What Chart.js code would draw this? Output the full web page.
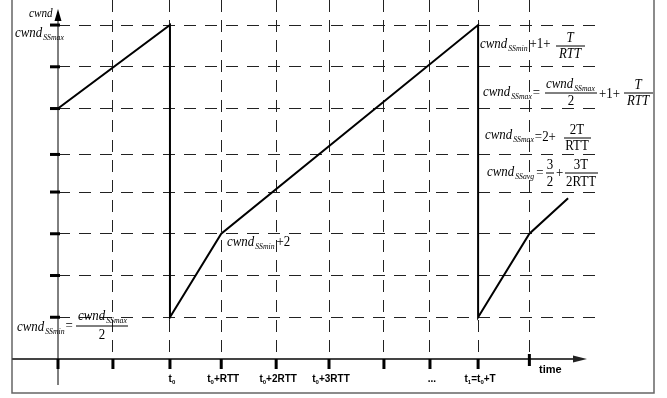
<!DOCTYPE html>
<html>
<head>
<meta charset="utf-8">
<script src="https://cdn.jsdelivr.net/npm/chart.js@4"></script>
<style>
  body { margin: 0; background: #fff; }
  #wrap { width: 667px; height: 398px; position: relative; }
</style>
</head>
<body>
<div id="wrap"><canvas id="cwndChart"></canvas></div>
<script>
// Data
const timeVals = [0, 2.14, 2.14, 3.12, 8.03, 8.03, 9.01, 9.75];
const cwndVals = [6, 8, 1, 3, 8, 1, 3, 3.85];
const xTicks = [0, 1.05, 2.14, 3.12, 4.17, 5.18, 6.23, 7.11, 8.03, 9.01];
const xTickLabels = ['', '', 't_0', 't_0+RTT', 't_0+2RTT', 't_0+3RTT', '', '...', 't_1=t_0+T', ''];
const yTicks = [1, 2, 3, 4, 4.9, 6, 7, 8];

const SERIF = '"Liberation Serif", "Times New Roman", serif';
const SANS = '"Liberation Sans", Arial, sans-serif';
const SX = 0.86; // serif math text is a bit condensed in the original

const IT = 'italic 15px ' + SERIF;
const RM = '15px ' + SERIF;
const SUB = 'italic 9px ' + SERIF;

// draw a run of text pieces left to right
function run(ctx, x, y, parts) {
  parts.forEach(function(p) {
    const sx = p.sx || 1;
    ctx.font = p.f;
    ctx.save();
    ctx.translate(x, y + (p.dy || 0));
    ctx.scale(sx, 1);
    ctx.fillText(p.t, 0, 0);
    ctx.restore();
    x += ctx.measureText(p.t).width * sx + (p.gap || 0);
  });
  return x;
}

function cw(ctx, x, y, sub) {
  return run(ctx, x, y, [
    { t: 'cwnd', f: IT, sx: SX, gap: 1 },
    { t: sub, f: SUB, sx: SX, dy: 3 }
  ]);
}

function txt(ctx, x, y, t, f) {
  return run(ctx, x, y, [{ t: t, f: f, sx: SX }]);
}

function centered(ctx, cx, y, t, f) {
  ctx.font = f;
  const w = ctx.measureText(t).width * SX;
  run(ctx, cx - w / 2, y, [{ t: t, f: f, sx: SX }]);
}

function bar(ctx, x0, x1, y) {
  ctx.beginPath();
  ctx.moveTo(x0, y);
  ctx.lineTo(x1, y);
  ctx.lineWidth = 1;
  ctx.strokeStyle = '#000';
  ctx.stroke();
}

// split "t_0+RTT" into normal / subscript pieces
function tickParts(label) {
  const parts = [];
  let buf = '';
  for (let i = 0; i < label.length; i++) {
    if (label[i] === '_') {
      if (buf) parts.push({ t: buf, f: 'bold 10px ' + SANS });
      buf = '';
      parts.push({ t: label[i + 1], f: 'bold 6px ' + SANS, dy: 2 });
      i++;
    } else {
      buf += label[i];
    }
  }
  if (buf) parts.push({ t: buf, f: 'bold 10px ' + SANS });
  return parts;
}

const decorPlugin = {
  id: 'decor',
  afterDraw: function(chart) {
    const ctx = chart.ctx;
    const xs = chart.scales.x;
    const ys = chart.scales.y;
    const axisY = ys.getPixelForValue(0);
    const axisX = xs.getPixelForValue(0);
    ctx.save();

    // outer frame
    ctx.strokeStyle = '#666';
    ctx.lineWidth = 1.5;
    ctx.beginPath();
    ctx.moveTo(12, 0);
    ctx.lineTo(12, 393);
    ctx.lineTo(654, 393);
    ctx.lineTo(654, 0);
    ctx.stroke();

    // x axis with arrow
    ctx.strokeStyle = '#444';
    ctx.lineWidth = 2;
    ctx.beginPath();
    ctx.moveTo(12, axisY);
    ctx.lineTo(576, axisY);
    ctx.stroke();
    ctx.fillStyle = '#222';
    ctx.beginPath();
    ctx.moveTo(587, axisY);
    ctx.lineTo(573, axisY - 3.5);
    ctx.lineTo(573, axisY + 3.5);
    ctx.closePath();
    ctx.fill();

    // y axis with arrow
    ctx.strokeStyle = '#000';
    ctx.lineWidth = 1;
    ctx.beginPath();
    ctx.moveTo(axisX, 20);
    ctx.lineTo(axisX, 385);
    ctx.stroke();
    ctx.fillStyle = '#000';
    ctx.beginPath();
    ctx.moveTo(axisX, 9);
    ctx.lineTo(axisX - 3.5, 21);
    ctx.lineTo(axisX + 3.5, 21);
    ctx.closePath();
    ctx.fill();

    // tick marks
    xTicks.forEach(function(v, i) {
      const px = xs.getPixelForValue(v);
      if (i === xTicks.length - 1) ctx.fillRect(px - 1.5, axisY - 5, 3, 12);
      else ctx.fillRect(px - 1.5, axisY, 3, 10);
    });
    yTicks.forEach(function(v) {
      const py = ys.getPixelForValue(v);
      ctx.fillRect(axisX - 8, py - 1.5, 10, 3);
    });

    // x tick labels
    ctx.fillStyle = '#000';
    xTickLabels.forEach(function(lab, i) {
      if (!lab) return;
      const parts = tickParts(lab);
      let w = 0;
      parts.forEach(function(p) { ctx.font = p.f; w += ctx.measureText(p.t).width; });
      run(ctx, xs.getPixelForValue(xTicks[i]) - w / 2 + 2, 382, parts);
    });
    run(ctx, 539, 373, [{ t: 'time', f: 'bold 11px ' + SANS }]);

    // y labels
    run(ctx, 29, 17, [{ t: 'cwnd', f: 'italic 13px ' + SERIF, sx: SX }]);
    cw(ctx, 15, 37, 'SSmax');

    // cwnd_SSmin = cwnd_SSmax / 2
    let x = cw(ctx, 17, 331, 'SSmin');
    txt(ctx, x + 1, 330, '=', RM);
    cw(ctx, 78, 320, 'SSmax');
    bar(ctx, 76, 128, 326);
    centered(ctx, 102, 339, '2', RM);

    // cwnd_SSmin + 1 + T/RTT
    x = cw(ctx, 480, 48, 'SSmin');
    txt(ctx, x + 2, 48, '+1+', RM);
    bar(ctx, 556, 585, 46);
    centered(ctx, 570, 42, 'T', IT);
    centered(ctx, 570, 58, 'RTT', IT);

    // cwnd_SSmax = cwnd_SSmax/2 + 1 + T/RTT
    x = cw(ctx, 483, 96, 'SSmax');
    txt(ctx, x + 1, 97, '=', RM);
    cw(ctx, 546, 88, 'SSmax');
    bar(ctx, 545, 597, 93);
    centered(ctx, 571, 105, '2', RM);
    txt(ctx, 599, 98, '+1+', RM);
    bar(ctx, 624, 653, 93);
    centered(ctx, 638, 89, 'T', IT);
    centered(ctx, 638, 105, 'RTT', IT);

    // cwnd_SSmax = 2 + 2T/RTT
    x = cw(ctx, 485, 139, 'SSmax');
    txt(ctx, x + 1, 141, '=2+', RM);
    bar(ctx, 564, 591, 138);
    centered(ctx, 577, 134, '2T', RM);
    centered(ctx, 577, 150, 'RTT', RM);

    // cwnd_SSavg = 3/2 + 3T/2RTT
    x = cw(ctx, 487, 176, 'SSavg');
    txt(ctx, x + 2, 177, '=', RM);
    bar(ctx, 546, 554, 173);
    centered(ctx, 550, 169, '3', RM);
    centered(ctx, 550, 186, '2', RM);
    txt(ctx, 556, 177, '+', RM);
    bar(ctx, 565, 598, 173);
    centered(ctx, 581, 169, '3T', RM);
    centered(ctx, 581, 186, '2RTT', RM);

    // cwnd_SSmin + 2
    x = cw(ctx, 227, 246, 'SSmin');
    txt(ctx, x + 2, 246, '+2', RM);

    ctx.restore();
  }
};

const points = timeVals.map(function(t, i) { return { x: t, y: cwndVals[i] }; });

new Chart(document.getElementById('cwndChart').getContext('2d'), {
  type: 'line',
  data: {
    datasets: [{
      data: points,
      borderColor: '#000',
      borderWidth: 2,
      pointRadius: 0,
      tension: 0,
      fill: false
    }]
  },
  options: {
    responsive: true,
    maintainAspectRatio: false,
    animation: false,
    layout: { padding: { left: 58, right: 67, top: 0, bottom: 39 } },
    plugins: {
      legend: { display: false },
      tooltip: { enabled: false }
    },
    scales: {
      x: {
        type: 'linear',
        min: 0,
        max: 10.36,
        afterBuildTicks: function(axis) {
          axis.ticks = xTicks.slice(1).map(function(v) { return { value: v }; });
        },
        ticks: { display: false },
        border: { display: false, dash: [12, 8] },
        grid: { color: '#222', lineWidth: 1, drawTicks: false }
      },
      y: {
        min: 0,
        max: 8.6,
        afterBuildTicks: function(axis) {
          axis.ticks = yTicks.map(function(v) { return { value: v }; });
        },
        ticks: { display: false },
        border: { display: false, dash: [12, 9] },
        grid: { color: '#222', lineWidth: 1, drawTicks: false }
      }
    }
  },
  plugins: [decorPlugin]
});
</script>
</body>
</html>
